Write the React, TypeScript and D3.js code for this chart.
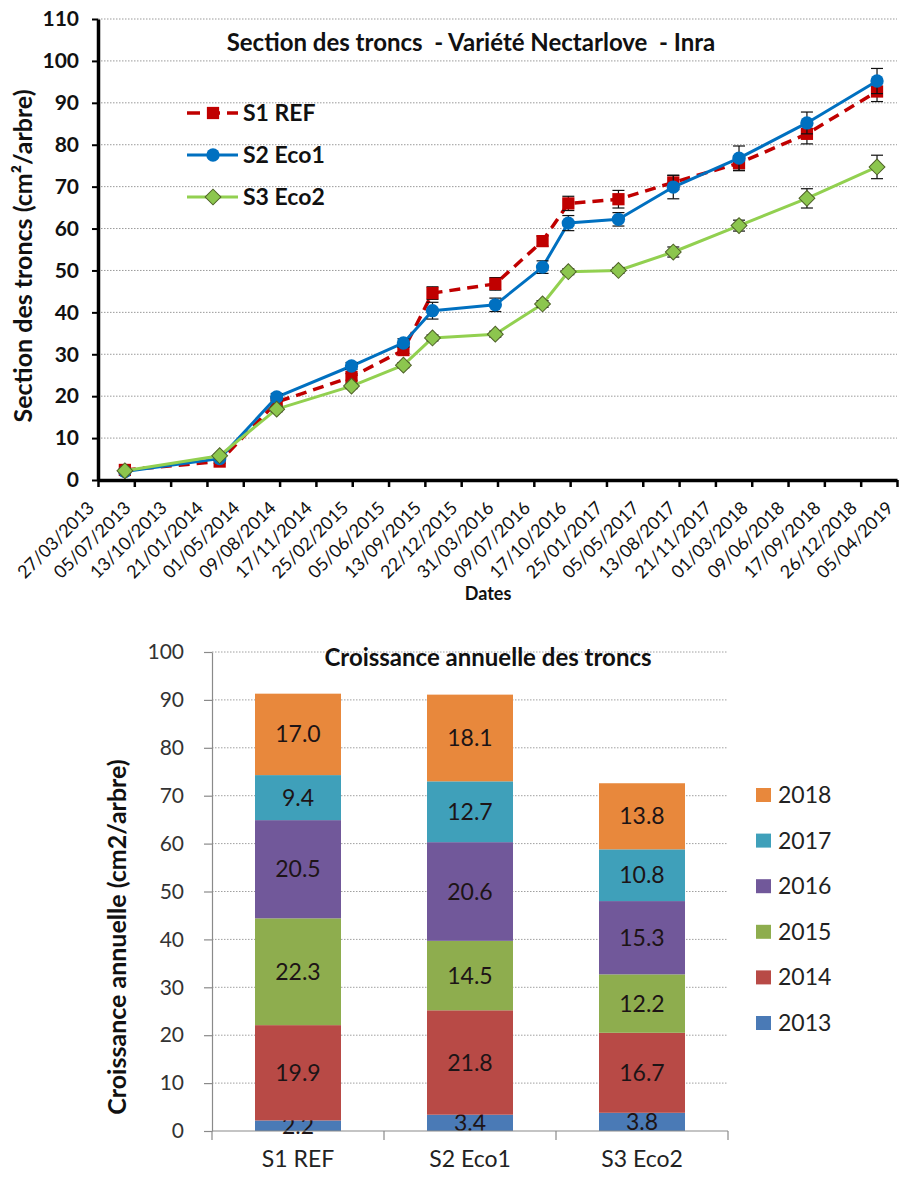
import React, { useEffect, useRef } from "react";
import * as d3 from "d3";

const FONT = "Lato, 'Noto Sans', sans-serif";

// ---- top chart: trunk section over time ----
const tickDates = [
  "27/03/2013", "05/07/2013", "13/10/2013", "21/01/2014", "01/05/2014", "09/08/2014",
  "17/11/2014", "25/02/2015", "05/06/2015", "13/09/2015", "22/12/2015", "31/03/2016",
  "09/07/2016", "17/10/2016", "25/01/2017", "05/05/2017", "13/08/2017", "21/11/2017",
  "01/03/2018", "09/06/2018", "17/09/2018", "26/12/2018", "05/04/2019",
];
const sampleDates = [
  "09/06/2013", "25/02/2014", "01/08/2014", "23/02/2015", "16/07/2015", "04/10/2015",
  "25/03/2016", "02/08/2016", "12/10/2016", "27/02/2017", "28/07/2017", "25/01/2018",
  "31/07/2018", "09/02/2019",
];
const s1Ref = [2.4, 4.4, 18.6, 24.6, 31.0, 44.6, 46.8, 57.0, 66.0, 67.0, 71.0, 75.6, 82.6, 92.7];
const s2Eco1 = [2.0, 5.1, 19.8, 27.2, 32.7, 40.4, 41.8, 50.8, 61.3, 62.2, 69.9, 76.8, 85.2, 95.2];
const s3Eco2 = [2.2, 5.8, 16.9, 22.4, 27.4, 33.9, 34.8, 42.0, 49.7, 50.0, 54.4, 60.7, 67.2, 74.7];
const s1Err = [0.3, 0.4, 0.8, 0.8, 0.8, 1.5, 1.5, 1.2, 1.7, 2.1, 1.7, 1.8, 2.4, 2.4];
const s2Err = [0.3, 0.4, 0.8, 0.8, 1.0, 2.0, 1.6, 1.5, 1.8, 1.6, 2.8, 2.9, 2.6, 3.0];
const s3Err = [0.3, 0.4, 0.6, 0.6, 0.6, 0.7, 0.7, 0.8, 0.7, 0.7, 1.2, 1.3, 2.3, 2.8];
const lineNames = ["S1 REF", "S2 Eco1", "S3 Eco2"];

// ---- bottom chart: annual growth ----
const groups = ["S1 REF", "S2 Eco1", "S3 Eco2"];
const years = ["2013", "2014", "2015", "2016", "2017", "2018"];
const growth2013 = [2.2, 3.4, 3.8];
const growth2014 = [19.9, 21.8, 16.7];
const growth2015 = [22.3, 14.5, 12.2];
const growth2016 = [20.5, 20.6, 15.3];
const growth2017 = [9.4, 12.7, 10.8];
const growth2018 = [17.0, 18.1, 13.8];
const yearColors = ["#4A7AB6", "#B84A46", "#8EAD4E", "#71589A", "#3FA0BA", "#E8883C"];

export default function App() {
  const svgRef = useRef<SVGSVGElement>(null);

  useEffect(() => {
    if (!svgRef.current) return;
    const svg = d3.select(svgRef.current);
    svg.selectAll("*").remove();
    svg.append("rect").attr("width", 899).attr("height", 1178).attr("fill", "#fff");
    drawTop(svg.append("g"));
    drawBottom(svg.append("g"));
  }, []);

  return (
    <svg
      ref={svgRef}
      width={899}
      height={1178}
      style={{ position: "absolute", left: 0, top: 0, fontFamily: FONT }}
    />
  );
}

function drawTop(g: d3.Selection<SVGGElement, unknown, null, undefined>) {
  const parse = d3.utcParse("%d/%m/%Y");
  const ticks = tickDates.map(d => parse(d) as Date);
  const x = d3.scaleUtc().domain([ticks[0], ticks[ticks.length - 1]]).range([98, 897]);
  const y = d3.scaleLinear().domain([0, 110]).range([480, 19]);

  // dotted grid
  g.append("g")
    .selectAll("line")
    .data(d3.range(10, 111, 10))
    .join("line")
    .attr("x1", 98).attr("x2", 897)
    .attr("y1", d => y(d)).attr("y2", d => y(d))
    .attr("stroke", "#9a9a9a")
    .attr("stroke-dasharray", "1.5,1.5");

  // title
  g.append("text")
    .attr("x", 471).attr("y", 51)
    .attr("text-anchor", "middle")
    .style("font-size", "24px").style("font-weight", "bold")
    .attr("fill", "#111")
    .attr("xml:space", "preserve")
    .text("Section des troncs  - Variété Nectarlove  - Inra");

  // series
  const dates = sampleDates.map(d => parse(d) as Date);
  const series = [
    { name: lineNames[0], values: s1Ref, err: s1Err, color: "#C00000", dash: "11,7", width: 3.5 },
    { name: lineNames[1], values: s2Eco1, err: s2Err, color: "#0070C0", dash: null, width: 3 },
    { name: lineNames[2], values: s3Eco2, err: s3Err, color: "#92D050", dash: null, width: 3 },
  ];

  const line = d3.line<number>().x((_, i) => x(dates[i])).y(d => y(d));

  const square = d3.symbol().type(d3.symbolSquare).size(150);
  const circle = d3.symbol().type(d3.symbolCircle).size(140);
  const diamond = d3.symbol().type(d3.symbolSquare).size(125);

  const drawMarker = (sel: any, idx: number, cx: number, cy: number) => {
    if (idx === 0) {
      sel.append("path").attr("d", square()).attr("transform", `translate(${cx},${cy})`)
        .attr("fill", "#C00000");
    } else if (idx === 1) {
      sel.append("path").attr("d", circle()).attr("transform", `translate(${cx},${cy})`)
        .attr("fill", "#0070C0");
    } else {
      sel.append("path").attr("d", diamond()).attr("transform", `translate(${cx},${cy}) rotate(45)`)
        .attr("fill", "#8CC64E").attr("stroke", "#4F6228").attr("stroke-width", 1);
    }
  };

  series.forEach((s, si) => {
    const sg = g.append("g");
    sg.append("path")
      .datum(s.values)
      .attr("fill", "none")
      .attr("stroke", s.color)
      .attr("stroke-width", s.width)
      .attr("stroke-dasharray", s.dash)
      .attr("stroke-linejoin", "round")
      .attr("d", line);

    // error bars
    s.values.forEach((v, i) => {
      const cx = x(dates[i]);
      const eb = sg.append("g").attr("stroke", "#111").attr("stroke-width", 1.2);
      eb.append("line").attr("x1", cx).attr("x2", cx).attr("y1", y(v - s.err[i])).attr("y2", y(v + s.err[i]));
      [v - s.err[i], v + s.err[i]].forEach(e =>
        eb.append("line").attr("x1", cx - 6).attr("x2", cx + 6).attr("y1", y(e)).attr("y2", y(e)));
    });

    s.values.forEach((v, i) => drawMarker(sg, si, x(dates[i]), y(v)));
  });

  // legend
  const legendY = [113, 155, 197];
  series.forEach((s, si) => {
    const lg = g.append("g");
    lg.append("line")
      .attr("x1", 187).attr("x2", 238)
      .attr("y1", legendY[si]).attr("y2", legendY[si])
      .attr("stroke", s.color).attr("stroke-width", s.width)
      .attr("stroke-dasharray", s.dash ? "13,7" : null);
    drawMarker(lg, si, 213, legendY[si]);
    lg.append("text")
      .attr("x", 243).attr("y", legendY[si] + 8)
      .style("font-size", "23px").style("font-weight", "bold")
      .attr("fill", "#111")
      .text(s.name);
  });

  // axes
  const yAxis = g.append("g")
    .attr("transform", "translate(98,0)")
    .call(d3.axisLeft(y).tickValues(d3.range(0, 111, 10)).tickSize(6).tickSizeOuter(0).tickPadding(13));
  yAxis.select(".domain").attr("stroke", "#000").attr("stroke-width", 3.5);
  yAxis.selectAll(".tick line").attr("stroke", "#000").attr("stroke-width", 2);
  yAxis.selectAll("text")
    .attr("fill", "#111")
    .style("font-family", FONT).style("font-size", "21px").style("font-weight", "bold");

  const xAxis = g.append("g")
    .attr("transform", "translate(0,480)")
    .call(d3.axisBottom(x).tickValues(ticks).tickFormat(d3.utcFormat("%d/%m/%Y") as any).tickSize(7).tickSizeOuter(0));
  xAxis.select(".domain").attr("stroke", "#000").attr("stroke-width", 3.5);
  xAxis.selectAll(".tick line").attr("stroke", "#000").attr("stroke-width", 2.5);
  xAxis.selectAll("text")
    .attr("y", 0).attr("dy", 0)
    .attr("text-anchor", "end")
    .attr("transform", "translate(-3,29) rotate(-45)")
    .attr("fill", "#111")
    .style("font-family", FONT).style("font-size", "18px");

  g.append("text")
    .attr("x", 488).attr("y", 600)
    .attr("text-anchor", "middle")
    .style("font-size", "18px").style("font-weight", "bold")
    .attr("fill", "#111")
    .text("Dates");

  g.append("text")
    .attr("transform", "translate(32,256) rotate(-90)")
    .attr("text-anchor", "middle")
    .style("font-size", "25px").style("font-weight", "bold")
    .attr("fill", "#111")
    .text("Section des troncs (cm²/arbre)");
}

function drawBottom(g: d3.Selection<SVGGElement, unknown, null, undefined>) {
  const x = d3.scaleBand().domain(groups).range([212, 728]).paddingInner(0.5).paddingOuter(0.25);
  const y = d3.scaleLinear().domain([0, 100]).range([1131, 652]);

  const byYear = [growth2013, growth2014, growth2015, growth2016, growth2017, growth2018];
  const rows = groups.map((grp, gi) => {
    const r: any = { group: grp };
    years.forEach((yr, yi) => (r[yr] = byYear[yi][gi]));
    return r;
  });
  const stacked = d3.stack<any>().keys(years)(rows);

  // grid
  g.append("g")
    .selectAll("line")
    .data(d3.range(10, 101, 10))
    .join("line")
    .attr("x1", 212).attr("x2", 728)
    .attr("y1", d => y(d)).attr("y2", d => y(d))
    .attr("stroke", "#a0a0a0")
    .attr("stroke-dasharray", "1.5,1.5");

  // bars
  stacked.forEach((layer, li) => {
    const lg = g.append("g");
    lg.selectAll("rect")
      .data(layer)
      .join("rect")
      .attr("x", d => x(d.data.group)!)
      .attr("width", x.bandwidth())
      .attr("y", d => y(d[1]))
      .attr("height", d => y(d[0]) - y(d[1]))
      .attr("fill", yearColors[li]);
    lg.selectAll("text")
      .data(layer)
      .join("text")
      .attr("x", d => x(d.data.group)! + x.bandwidth() / 2)
      .attr("y", d => y((d[0] + d[1]) / 2) + 8)
      .attr("text-anchor", "middle")
      .style("font-size", "23px")
      .attr("fill", "#1d1416")
      .text(d => (d[1] - d[0]).toFixed(1));
  });

  // y axis
  const yAxis = g.append("g")
    .attr("transform", "translate(212,0)")
    .call(d3.axisLeft(y).tickValues(d3.range(0, 101, 10)).tickSize(8).tickSizeOuter(0).tickPadding(20));
  yAxis.select(".domain").attr("stroke", "#8a8a8a").attr("stroke-width", 1.2);
  yAxis.selectAll(".tick line").attr("stroke", "#8a8a8a").attr("stroke-width", 1.2);
  yAxis.selectAll("text")
    .attr("fill", "#333")
    .style("font-family", FONT).style("font-size", "21px");

  // x axis
  g.append("line")
    .attr("x1", 212).attr("x2", 728).attr("y1", 1131).attr("y2", 1131)
    .attr("stroke", "#8a8a8a").attr("stroke-width", 1.2);
  const step = x.step();
  g.append("g")
    .selectAll("line")
    .data(d3.range(0, groups.length + 1))
    .join("line")
    .attr("x1", i => 212 + i * step).attr("x2", i => 212 + i * step)
    .attr("y1", 1131).attr("y2", 1140)
    .attr("stroke", "#8a8a8a").attr("stroke-width", 1.2);
  g.append("g")
    .selectAll("text")
    .data(groups)
    .join("text")
    .attr("x", d => x(d)! + x.bandwidth() / 2)
    .attr("y", 1167)
    .attr("text-anchor", "middle")
    .style("font-size", "23px")
    .attr("fill", "#222")
    .text(d => d);

  // title
  g.append("text")
    .attr("x", 488).attr("y", 666)
    .attr("text-anchor", "middle")
    .style("font-size", "24px").style("font-weight", "bold")
    .attr("fill", "#111")
    .text("Croissance annuelle des troncs");

  g.append("text")
    .attr("transform", "translate(126,937) rotate(-90)")
    .attr("text-anchor", "middle")
    .style("font-size", "25px").style("font-weight", "bold")
    .attr("fill", "#111")
    .text("Croissance annuelle (cm2/arbre)");

  // legend, newest year on top
  const legYears = years.slice().reverse();
  legYears.forEach((yr, i) => {
    const cy = 795 + i * 45.6;
    const ci = years.indexOf(yr);
    g.append("rect")
      .attr("x", 756).attr("y", cy - 7)
      .attr("width", 15).attr("height", 14)
      .attr("fill", yearColors[ci]);
    g.append("text")
      .attr("x", 778).attr("y", cy + 8)
      .style("font-size", "23px")
      .attr("fill", "#222")
      .text(yr);
  });
}
